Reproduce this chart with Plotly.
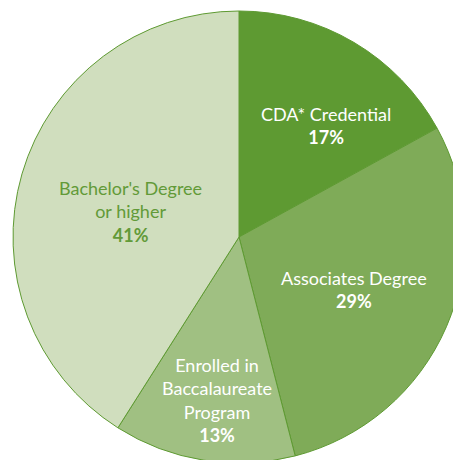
import plotly.graph_objects as go

labels = ["CDA* Credential", "Associates Degree", "Enrolled in<br>Baccalaureate<br>Program", "Bachelor's Degree<br>or higher"]
values = [17, 29, 13, 41]
colors = ["#5e9a32", "#7fab58", "#a0c082", "#d0debe"]
text_colors = ["#ffffff", "#ffffff", "#ffffff", "#629a38"]
# label anchor positions (pixel coordinates in the window)
label_px = [(326, 126), (354, 289), (217, 400), (130, 211)]

W, H = 478, 474
cx, cy, r = 239, 237, 226

fig = go.Figure(go.Pie(
    labels=labels,
    values=values,
    sort=False,
    direction="clockwise",
    rotation=0,
    marker=dict(colors=colors, line=dict(color="#5e9a32", width=1)),
    textinfo="none",
    hoverinfo="label+percent",
    showlegend=False,
    domain=dict(x=[(cx - r) / W, (cx + r) / W], y=[1 - (cy + r) / H, 1 - (cy - r) / H]),
))

for lab, val, tc, (px, py) in zip(labels, values, text_colors, label_px):
    fig.add_annotation(
        x=px / W, y=1 - py / H, xref="paper", yref="paper",
        text=f"{lab}<br><b>{val}%</b>",
        showarrow=False, align="center",
        font=dict(family="Lato", size=18, color=tc),
        xanchor="center", yanchor="middle",
    )

fig.update_layout(
    width=W, height=H,
    margin=dict(l=0, r=0, t=0, b=0),
    paper_bgcolor="white", plot_bgcolor="white",
)

fig.write_html(
    "out.html",
    config={"displayModeBar": False},
    post_script="document.body.style.margin='0';document.body.style.overflow='hidden';document.documentElement.style.overflow='hidden';",
)
